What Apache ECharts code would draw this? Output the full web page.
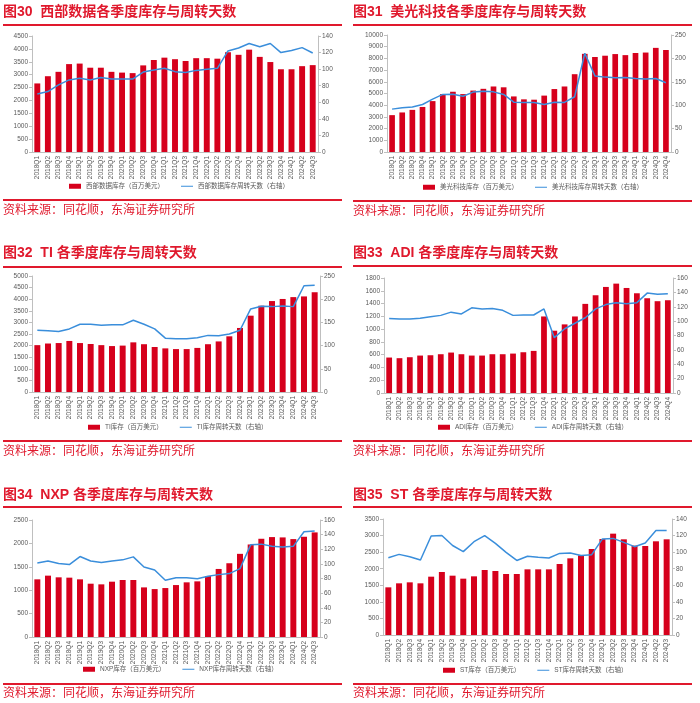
<!DOCTYPE html>
<html><head><meta charset="utf-8">
<script src="https://cdn.jsdelivr.net/npm/echarts@6/dist/echarts.min.js"></script>
<style>html,body{margin:0;padding:0;background:#fff}#c{width:700px;height:703px}</style>
</head><body><div id="c"></div>
<script>
const quarters27 = ['2018Q1','2018Q2','2018Q3','2018Q4','2019Q1','2019Q2','2019Q3','2019Q4','2020Q1','2020Q2','2020Q3','2020Q4','2021Q1','2021Q2','2021Q3','2021Q4','2022Q1','2022Q2','2022Q3','2022Q4','2023Q1','2023Q2','2023Q3','2023Q4','2024Q1','2024Q2','2024Q3'];
const quarters28 = ['2018Q1','2018Q2','2018Q3','2018Q4','2019Q1','2019Q2','2019Q3','2019Q4','2020Q1','2020Q2','2020Q3','2020Q4','2021Q1','2021Q2','2021Q3','2021Q4','2022Q1','2022Q2','2022Q3','2022Q4','2023Q1','2023Q2','2023Q3','2023Q4','2024Q1','2024Q2','2024Q3','2024Q4'];

const wdcInv  = [2660,2940,3110,3410,3430,3270,3270,3110,3080,3060,3360,3570,3660,3600,3530,3640,3640,3620,3870,3770,3970,3690,3490,3210,3210,3330,3370];
const wdcDays = [70,73,81,87,89,87,90,88,88,88,96.5,99,101,97,96,98.5,100,101,122,125.5,131,127,131,120,122.5,126,119.5];

const muInv  = [3150,3380,3600,3850,4350,4950,5150,4950,5250,5400,5600,5530,4750,4500,4470,4820,5380,5600,6650,8390,8120,8230,8370,8280,8460,8500,8900,8720];
const muDays = [91.6,94.5,96,101.5,113,123,123.5,119,128,130,128.5,123,106.5,106,106,101.5,106.5,106,118,211,162.6,160,158.5,159,157,156,157,148];

const tiInv  = [2020,2090,2110,2200,2110,2070,2020,1980,2000,2140,2060,1940,1880,1850,1850,1900,2060,2180,2400,2760,3290,3720,3920,4010,4090,4120,4300];
const tiDays = [133,132,130.5,136,146,146,144,144.7,144.7,154.7,146,136,116,115,115,117,122,121,125,133,179,185,184,185.5,184,229,230];

const adiInv  = [555,545,560,586,591,607,633,607,586,586,607,607,617,638,659,1198,975,1074,1198,1395,1530,1660,1712,1644,1561,1483,1437,1452];
const adiDays = [103.7,102.8,102.8,104,106,108,112.5,110,118.5,117,117.5,115,108,108.5,108.5,117,77,89.4,97,104.7,117,123,125.7,124.3,125.7,139,137.5,138];

const nxpInv  = [1232,1311,1275,1268,1232,1139,1125,1182,1218,1218,1060,1024,1046,1110,1168,1189,1304,1454,1576,1777,1977,2099,2135,2128,2092,2142,2235];
const nxpDays = [101.3,104,100.4,99,110,104,102,104,105.5,109.6,95.8,91.7,77.5,81,81,79.8,83,85.3,86.7,93.5,126,127,124,123,124,144,145];

const stInv  = [1438,1559,1589,1559,1760,1901,1790,1700,1770,1961,1931,1841,1841,1981,1981,1981,2142,2313,2404,2595,2897,3058,2887,2696,2686,2827,2887];
const stDays = [93.3,97.3,94.5,90.5,119.5,120,108,100.6,112.6,120,110.6,99.8,90,95,93.7,93,98.5,99,96,97,116,116.6,111.8,106.6,111,126,126];

const panels = [
 {ox:0,oy:0,title:'图30  西部数据各季度库存与周转天数',cats:quarters27,bar:wdcInv,line:wdcDays,barName:'西部数据库存（百万美元）',lineName:'西部数据库存周转天数（右轴）',lMax:4500,lInt:500,rMax:140,rInt:20,x1:32,x2:318,y1:36,y2:152,titleY:14,lineY:25,legendY:188,legendX:69,sepY:200,srcY:210},
 {ox:350,oy:0,title:'图31  美光科技各季度库存与周转天数',cats:quarters28,bar:muInv,line:muDays,barName:'美光科技库存（百万美元）',lineName:'美光科技库存周转天数（右轴）',lMax:10000,lInt:1000,rMax:250,rInt:50,x1:387,x2:671,y1:35,y2:152,titleY:14,lineY:25,legendY:189,legendX:423,sepY:201,srcY:211},
 {ox:0,oy:240,title:'图32  TI 各季度库存与周转天数',cats:quarters27,bar:tiInv,line:tiDays,barName:'TI库存（百万美元）',lineName:'TI库存周转天数（右轴）',lMax:5000,lInt:500,rMax:250,rInt:50,x1:32,x2:320,y1:276,y2:392,titleY:255,lineY:267,legendY:429,legendX:88,sepY:441,srcY:451},
 {ox:350,oy:240,title:'图33  ADI 各季度库存与周转天数',cats:quarters28,bar:adiInv,line:adiDays,barName:'ADI库存（百万美元）',lineName:'ADI库存周转天数（右轴）',lMax:1800,lInt:200,rMax:160,rInt:20,x1:384,x2:673,y1:278,y2:393,titleY:255,lineY:266,legendY:429,legendX:438,sepY:441,srcY:451},
 {ox:0,oy:480,title:'图34  NXP 各季度库存与周转天数',cats:quarters27,bar:nxpInv,line:nxpDays,barName:'NXP库存（百万美元）',lineName:'NXP库存周转天数（右轴）',lMax:2500,lInt:500,rMax:160,rInt:20,x1:32,x2:320,y1:520,y2:637,titleY:497,lineY:507,legendY:671,legendX:83,sepY:684,srcY:693},
 {ox:350,oy:480,title:'图35  ST 各季度库存与周转天数',cats:quarters27,bar:stInv,line:stDays,barName:'ST库存（百万美元）',lineName:'ST库存周转天数（右轴）',lMax:3500,lInt:500,rMax:140,rInt:20,x1:383,x2:672,y1:519,y2:635,titleY:497,lineY:507,legendY:672,legendX:443,sepY:684,srcY:693}
];

const FONT = 'Liberation Sans, Noto Sans CJK SC, sans-serif';
const RED = '#E0192D', BAR = '#D6001C', BLUE = '#3A8EDB', AX = '#BFBFBF', LBL = '#595959';
// thin horizontal line icon: bbox 0..24 x 0..10, visible strip in the middle
const LINE_ICON = 'path://M0,4.2 L24,4.2 L24,5.8 L0,5.8 Z M0,0 L0.01,0 L0.01,10 L0,10 Z';
const plain = v => String(v);

const grid=[], xAxis=[], yAxis=[], series=[], legend=[], graphic=[];
panels.forEach((p,i)=>{
  grid.push({left:p.x1, top:p.y1, width:p.x2-p.x1, height:p.y2-p.y1, containLabel:false});
  xAxis.push({type:'category', gridIndex:i, data:p.cats, boundaryGap:true,
    axisLine:{lineStyle:{color:AX}}, axisTick:{show:false},
    axisLabel:{interval:0, rotate:90, fontSize:6.5, color:LBL, fontFamily:FONT, margin:4}});
  const mk = (max, int, pos) => ({type:'value', gridIndex:i, min:0, max:max, interval:int, position:pos,
    axisLine:{show:true, lineStyle:{color:AX}}, axisTick:{show:true, length:3, lineStyle:{color:AX}},
    splitLine:{show:false}, axisLabel:{fontSize:6.5, color:LBL, fontFamily:FONT, margin:4, formatter:plain}});
  yAxis.push(mk(p.lMax, p.lInt, 'left'), mk(p.rMax, p.rInt, 'right'));
  series.push({type:'bar', name:p.barName, xAxisIndex:i, yAxisIndex:2*i, data:p.bar, barWidth:'56%',
    itemStyle:{color:BAR}, animation:false});
  series.push({type:'line', name:p.lineName, xAxisIndex:i, yAxisIndex:2*i+1, data:p.line, symbol:'none',
    lineStyle:{color:BLUE, width:1.5}, itemStyle:{color:BLUE}, animation:false});
  legend.push({data:[{name:p.barName, icon:'rect'}, {name:p.lineName, icon:LINE_ICON}], left:p.legendX, top:p.legendY-5,
    itemWidth:12, itemHeight:5, itemGap:17, padding:0,
    textStyle:{fontSize:6.5, color:LBL, fontFamily:FONT}});
  graphic.push({type:'text', left:p.ox+3, top:p.titleY-9,
    style:{text:p.title, fill:RED, font:'bold 14px "Liberation Sans", "Noto Sans CJK SC", sans-serif'}});
  graphic.push({type:'line', shape:{x1:p.ox+3, y1:p.lineY, x2:p.ox+342, y2:p.lineY}, style:{stroke:RED, lineWidth:2}});
  graphic.push({type:'line', shape:{x1:p.ox+3, y1:p.sepY, x2:p.ox+342, y2:p.sepY}, style:{stroke:RED, lineWidth:2}});
  graphic.push({type:'text', left:p.ox+3, top:p.srcY-7,
    style:{text:'资料来源：同花顺，东海证券研究所', fill:RED, font:'12px "Noto Sans CJK SC", sans-serif'}});
});

const chart = echarts.init(document.getElementById('c'), null, {renderer:'canvas'});
chart.setOption({animation:false, grid, xAxis, yAxis, series, legend, graphic});
</script></body></html>
